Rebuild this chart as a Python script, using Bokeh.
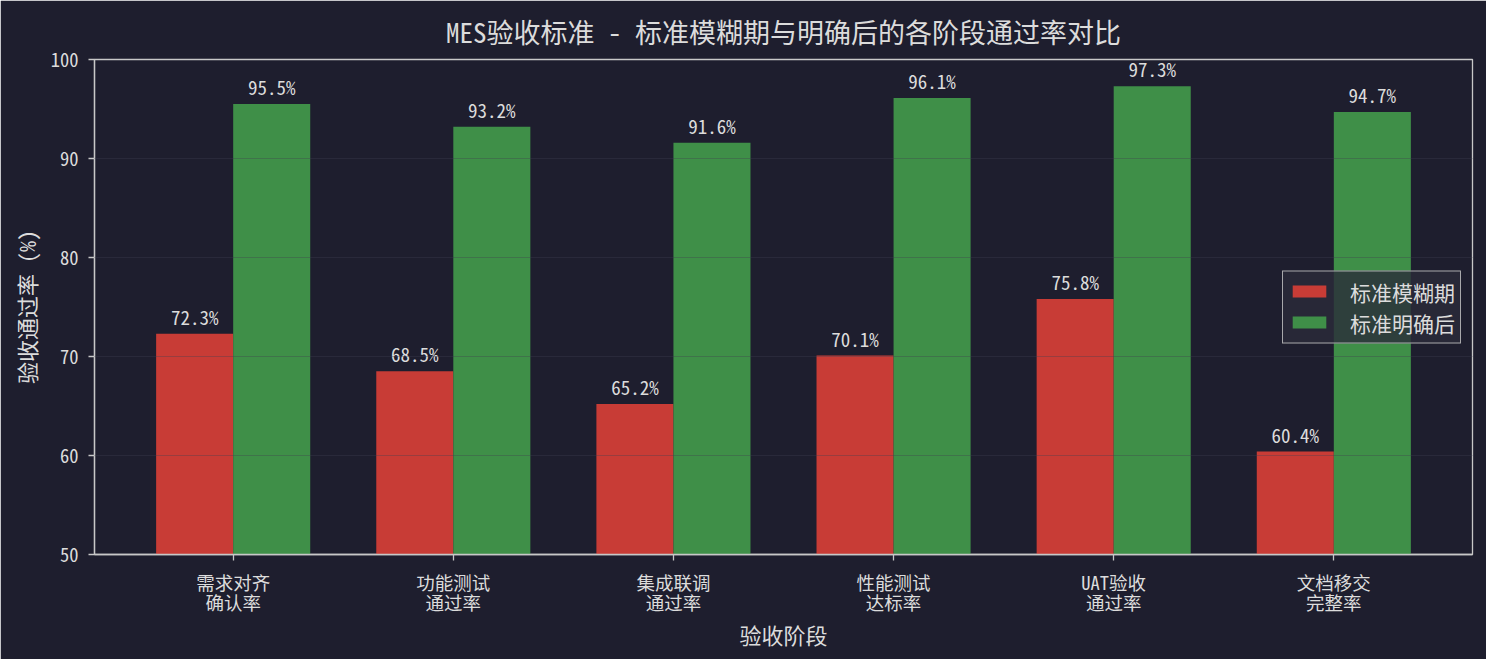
from bokeh.plotting import figure
from bokeh.models import ColumnDataSource, FixedTicker, Legend, LegendItem, Range1d
from bokeh.core.properties import value
from bokeh.embed import file_html
from bokeh.resources import INLINE

title_text = "MES验收标准 - 标准模糊期与明确后的各阶段通过率对比"
categories = ["需求对齐\n确认率", "功能测试\n通过率", "集成联调\n通过率", "性能测试\n达标率", "UAT验收\n通过率", "文档移交\n完整率"]
before = [72.3, 68.5, 65.2, 70.1, 75.8, 60.4]
after = [95.5, 93.2, 91.6, 96.1, 97.3, 94.7]
series_names = ["标准模糊期", "标准明确后"]
y_ticks = [50, 60, 70, 80, 90, 100]

FONT = "Noto Sans Mono CJK SC, Noto Sans CJK SC, DejaVu Sans Mono"
BG = "#1e1e2e"
FG = "#c8c8c8"
TXT = "#dcdcdc"
RED = "#c83c36"
GREEN = "#3f8f48"
W = 0.35

xs = list(range(len(categories)))
src_b = ColumnDataSource(dict(x=[i - W / 2 for i in xs], top=before,
                              lab=[f"{v:.1f}%" for v in before]))
src_a = ColumnDataSource(dict(x=[i + W / 2 for i in xs], top=after,
                              lab=[f"{v:.1f}%" for v in after]))

p = figure(width=1486, height=659, output_backend="svg", toolbar_location=None,
           x_range=Range1d(-0.63, len(categories) - 1 + 0.63),
           y_range=Range1d(50, 100),
           min_border_left=94, min_border_right=14, min_border_top=58, min_border_bottom=105,
           background_fill_color=BG, border_fill_color=BG,
           title=title_text)

p.title.text_font = FONT
p.title.text_font_size = "27px"
p.title.text_color = TXT
p.title.text_font_style = "normal"
p.title.align = "center"
p.title.offset = 0
p.title.standoff = 18

rb = p.vbar(x="x", top="top", bottom=50, width=W, source=src_b, fill_color=RED, line_color=None)
ga = p.vbar(x="x", top="top", bottom=50, width=W, source=src_a, fill_color=GREEN, line_color=None)

for s in (src_b, src_a):
    p.text(x="x", y="top", text="lab", source=s, text_align="center", text_baseline="bottom",
           y_offset=-4, text_font=value(FONT), text_font_size="19px", text_color=TXT)

p.outline_line_color = FG
p.outline_line_width = 1.3

p.xgrid.visible = False
p.ygrid.ticker = FixedTicker(ticks=y_ticks)
p.ygrid.grid_line_color = "#404050"
p.ygrid.grid_line_alpha = 0.35
p.ygrid.level = "overlay"

for ax in (p.xaxis[0], p.yaxis[0]):
    ax.axis_line_color = FG
    ax.axis_line_width = 1.3
    ax.major_tick_line_color = FG
    ax.major_tick_line_width = 1.3
    ax.major_tick_out = 6
    ax.major_tick_in = 0
    ax.minor_tick_line_color = None
    ax.major_label_text_font = FONT
    ax.major_label_text_color = TXT
    ax.major_label_text_font_size = "18.5px"
    ax.axis_label_text_font = FONT
    ax.axis_label_text_color = TXT
    ax.axis_label_text_font_size = "22px"
    ax.axis_label_text_font_style = "normal"

p.xaxis.ticker = FixedTicker(ticks=xs)
p.xaxis.major_label_overrides = {i: c for i, c in enumerate(categories)}
p.xaxis.major_label_text_line_height = 0.8
p.xaxis.axis_label = "验收阶段"
p.xaxis.major_label_standoff = 8
p.xaxis.axis_label_standoff = 0

p.yaxis.ticker = FixedTicker(ticks=y_ticks)
p.yaxis.axis_label = "验收通过率 (%)"
p.yaxis.major_label_standoff = 10
p.yaxis.axis_label_standoff = 6

legend = Legend(items=[LegendItem(label=series_names[0], renderers=[rb]),
                       LegendItem(label=series_names[1], renderers=[ga])],
                location="center_right")
legend.background_fill_color = "#2a2a3a"
legend.background_fill_alpha = 0.8
legend.border_line_color = FG
legend.border_line_alpha = 0.8
legend.label_text_font = FONT
legend.label_text_font_size = "21px"
legend.label_text_color = TXT
legend.glyph_width = 42
legend.glyph_height = 15
legend.spacing = 1
legend.padding = 5
legend.margin = 11
legend.label_standoff = 20
p.add_layout(legend)

open("out.html", "w").write(file_html(p, INLINE))
